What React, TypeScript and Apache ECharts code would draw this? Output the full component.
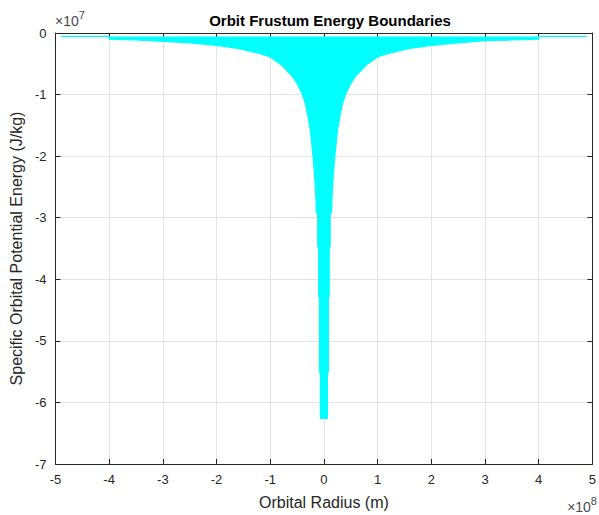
import React, { useEffect, useRef } from "react";
import * as echarts from "echarts";

// Boundary (radius in m, energy in J/kg)
const topLevel = -5.5e5;
const lineStart = -4.9e8;
const lineEnd = 4.9e8;

const radiusLeft = [
  -4.0e8, -4.0e8, -3.5e8, -3.23e8, -2.5e8, -2.0e8, -1.6e8, -1.2e8, -1.0e8, -8.0e7, -6.0e7, -5.0e7,
  -4.0e7, -3.47e7, -3.0e7, -2.5e7, -2.03e7, -1.7e7, -1.48e7, -1.42e7, -1.16e7, -1.16e7, -9.8e6,
  -9.8e6, -8.3e6, -8.3e6, -6.5e6, -6.5e6,
];
const energyLeft = [
  topLevel, -1.0e6, -1.14e6, -1.25e6, -1.6e6, -2.0e6, -2.5e6, -3.3e6, -3.9e6, -5.1e6, -6.9e6, -8.2e6,
  -1.0e7, -1.14e7, -1.34e7, -1.6e7, -2.0e7, -2.35e7, -2.71e7, -2.92e7, -2.92e7, -3.48e7, -3.48e7,
  -4.28e7, -4.28e7, -5.51e7, -5.51e7, -6.26e7,
];
const radiusRight = [
  6.5e6, 6.5e6, 8.3e6, 8.3e6, 9.8e6, 9.8e6, 1.16e7, 1.16e7, 1.42e7, 1.48e7, 1.7e7, 2.03e7, 2.5e7,
  3.0e7, 3.47e7, 4.0e7, 5.0e7, 6.0e7, 8.0e7, 1.0e8, 1.2e8, 1.6e8, 2.0e8, 2.5e8, 3.0e8, 3.5e8, 4.0e8,
  4.0e8,
];
const energyRight = [
  -6.26e7, -5.51e7, -5.51e7, -4.28e7, -4.28e7, -3.48e7, -3.48e7, -2.92e7, -2.92e7, -2.71e7, -2.35e7,
  -2.0e7, -1.6e7, -1.34e7, -1.14e7, -1.0e7, -8.2e6, -6.9e6, -5.1e6, -3.9e6, -3.3e6, -2.5e6, -2.0e6,
  -1.6e6, -1.25e6, -1.14e6, -1.0e6, topLevel,
];

const xTicks = ["-5", "-4", "-3", "-2", "-1", "0", "1", "2", "3", "4", "5"];
const yTicks = ["-7", "-6", "-5", "-4", "-3", "-2", "-1", "0"];

export default function App() {
  const ref = useRef<HTMLDivElement>(null);
  useEffect(() => {
    if (!ref.current) return;
    const chart = echarts.init(ref.current, undefined, { renderer: "svg" });
    const data: number[][] = [[lineStart, topLevel]];
    radiusLeft.forEach((r, i) => data.push([r, energyLeft[i]]));
    radiusRight.forEach((r, i) => data.push([r, energyRight[i]]));
    data.push([lineEnd, topLevel]);

    const font = "Liberation Sans, Arial, Helvetica, sans-serif";
    const axisColor = "#262626";
    const gridColor = "#e3e3e3";
    const xLabelIdx = (v: number) => xTicks[Math.round(v / 1e8) + 5];
    const yLabelIdx = (v: number) => yTicks[Math.round(v / 1e7) + 7];
    const rich = {
      b: { fontSize: 14, fontFamily: font, fill: "#4a4a4a", verticalAlign: "bottom" },
      s: { fontSize: 11, fontFamily: font, fill: "#4a4a4a", verticalAlign: "top", padding: [0, 0, 8, 0] },
    };

    chart.setOption({
      animation: false,
      backgroundColor: "#ffffff",
      title: {
        text: "Orbit Frustum Energy Boundaries",
        left: 325,
        top: 8,
        textAlign: "center",
        textStyle: { fontFamily: font, fontSize: 15, fontWeight: "bold", color: "#000" },
      },
      grid: { left: 54, right: 3, top: 33, bottom: 50, containLabel: false },
      xAxis: [
        {
          type: "value",
          min: -5e8,
          max: 5e8,
          interval: 1e8,
          name: "Orbital Radius (m)",
          nameLocation: "middle",
          nameGap: 30,
          nameTextStyle: { fontFamily: font, fontSize: 16, color: axisColor },
          axisLine: { show: true, onZero: false, lineStyle: { color: axisColor, width: 1 } },
          axisTick: { show: true, inside: true, length: 5, lineStyle: { color: axisColor } },
          axisLabel: { fontFamily: font, fontSize: 13, color: axisColor, margin: 9, formatter: xLabelIdx },
          splitLine: { show: true, lineStyle: { color: gridColor, width: 1 } },
        },
        {
          type: "value",
          position: "top",
          min: -5e8,
          max: 5e8,
          interval: 1e8,
          axisLine: { show: true, onZero: false, lineStyle: { color: axisColor, width: 1 } },
          axisTick: { show: true, inside: true, length: 5, lineStyle: { color: axisColor } },
          axisLabel: { show: false },
          splitLine: { show: false },
        },
      ],
      yAxis: [
        {
          type: "value",
          min: -7e7,
          max: 0,
          interval: 1e7,
          name: "Specific Orbital Potential Energy (J/kg)",
          nameLocation: "middle",
          nameGap: 26,
          nameTextStyle: { fontFamily: font, fontSize: 16, color: axisColor },
          axisLine: { show: true, onZero: false, lineStyle: { color: axisColor, width: 1 } },
          axisTick: { show: true, inside: true, length: 5, lineStyle: { color: axisColor } },
          axisLabel: { fontFamily: font, fontSize: 13, color: axisColor, margin: 9, formatter: yLabelIdx },
          splitLine: { show: true, lineStyle: { color: gridColor, width: 1 } },
        },
        {
          type: "value",
          position: "right",
          min: -7e7,
          max: 0,
          interval: 1e7,
          axisLine: { show: true, onZero: false, lineStyle: { color: axisColor, width: 1 } },
          axisTick: { show: true, inside: true, length: 5, lineStyle: { color: axisColor } },
          axisLabel: { show: false },
          splitLine: { show: false },
        },
      ],
      graphic: [
        {
          type: "text",
          left: 55,
          top: 9,
          style: { text: "{b|×10}{s|7}", rich, fontSize: 14, fontFamily: font, fill: "#4a4a4a" },
        },
        {
          type: "text",
          right: 2,
          top: 495,
          style: { text: "{b|×10}{s|8}", rich, fontSize: 14, fontFamily: font, fill: "#4a4a4a" },
        },
      ],
      series: [
        {
          type: "line",
          xAxisIndex: 0,
          yAxisIndex: 0,
          data,
          showSymbol: false,
          symbol: "none",
          lineStyle: { color: "#00ffff", width: 1.2 },
          areaStyle: { color: "#00ffff", opacity: 1, origin: topLevel },
          silent: true,
        },
      ],
    });
    return () => chart.dispose();
  }, []);
  return <div ref={ref} style={{ width: 599, height: 515, position: "absolute", left: 0, top: 0 }} />;
}
